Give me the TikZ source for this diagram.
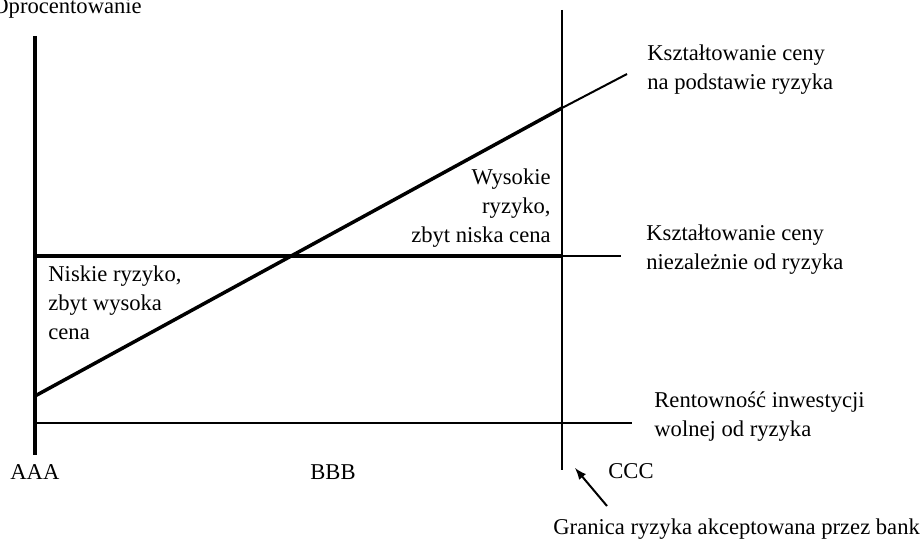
\documentclass[tikz,border=0pt]{standalone}
\usepackage{fontspec}
\setmainfont{Liberation Serif}
\usetikzlibrary{arrows}

\begin{document}
\begin{tikzpicture}[x=0.5pt, y=-0.5pt]
        % styles %
        \tikzstyle{lbl} = [inner sep=0pt, font=\fontsize{11.3}{14.5}\selectfont];
        \tikzstyle{thickline} = [line width=1.75pt];
        \tikzstyle{thinline} = [line width=1pt];
        \tikzstyle{pointer} = [->, line width=1pt, >=latex];

        \useasboundingbox (0,0) rectangle (924,540);

        % coordinates %
        \coordinate (axtop) at (35,36);
        \coordinate (axbot) at (35,455);
        \coordinate (limtop) at (562,10);
        \coordinate (limbot) at (562,470);
        \coordinate (rfL) at (35,423);
        \coordinate (rfR) at (632,423);
        \coordinate (flatL) at (35,256);
        \coordinate (flatM) at (562,256);
        \coordinate (flatR) at (621,256);
        \coordinate (riskL) at (35,396);
        \coordinate (riskM) at (562,108);
        \coordinate (riskR) at (627,74);
        \coordinate (arrtail) at (607,506);
        \coordinate (arrhead) at (575,468);

        % nodes %
        \node [lbl, anchor=base west] (ylabel) at (-8,14) {Oprocentowanie};
        \node [lbl, anchor=base west, align=left] (riskprice) at (647,90) {Kształtowanie ceny\\na podstawie ryzyka};
        \node [lbl, anchor=base west, align=left] (flatprice) at (646,269) {Kształtowanie ceny\\niezależnie od ryzyka};
        \node [lbl, anchor=base west, align=left] (riskfree) at (654,436) {Rentowność inwestycji\\wolnej od ryzyka};
        \node [lbl, anchor=base east, align=right] (high) at (551,242) {Wysokie\\ryzyko,\\zbyt niska cena};
        \node [lbl, anchor=base west, align=left] (low) at (48,339) {Niskie ryzyko,\\zbyt wysoka\\cena};
        \node [lbl, anchor=base west] (aaa) at (10,479) {AAA};
        \node [lbl, anchor=base] (bbb) at (333,479) {BBB};
        \node [lbl, anchor=base west] (ccc) at (608,478) {CCC};
        \node [lbl, anchor=base west] (limit) at (553,534) {Granica ryzyka akceptowana przez bank};

        % edges %
        \draw [thickline] (axtop) -- (axbot);
        \draw [thinline, line width=1.2pt] (limtop) -- (limbot);
        \draw [thinline] (rfL) -- (rfR);
        \draw [thickline] (flatL) -- (flatM);
        \draw [thinline] (flatM) -- (flatR);
        \draw [thickline] (riskL) -- (riskM);
        \draw [thinline] (riskM) -- (riskR);
        \draw [pointer] (arrtail) -- (arrhead);
\end{tikzpicture}
\end{document}
